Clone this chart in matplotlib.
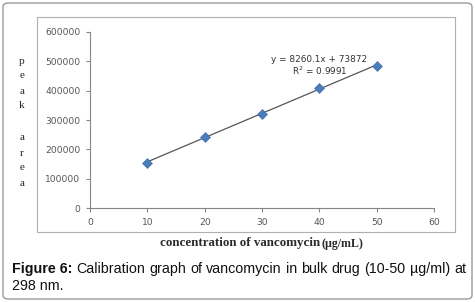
import numpy as np
import matplotlib
matplotlib.use("Agg")
import matplotlib.pyplot as plt
from matplotlib.patches import FancyBboxPatch, Rectangle

conc = [10, 20, 30, 40, 50]
peak_area = [155000, 243000, 322000, 409000, 484000]
xticks = [0, 10, 20, 30, 40, 50, 60]
yticks = [0, 100000, 200000, 300000, 400000, 500000, 600000]
eq_text = "y = 8260.1x + 73872"
r2_text = "R$^2$ = 0.9991"
xlabel_main = "concentration of vancomycin"
xlabel_unit = "(\u00b5g/mL)"
ylabel_letters = "peak area"
caption_bold = "Figure 6:"
caption_line1 = "Calibration graph of vancomycin in bulk drug (10-50 \u00b5g/ml) at"
caption_line2 = "298 nm."

W, H = 475, 302
fig = plt.figure(figsize=(W / 100, H / 100), dpi=100)

fig.patches.append(FancyBboxPatch((3 / W, 3 / H), 469 / W, 296 / H,
                                  boxstyle="round,pad=0,rounding_size=0.012",
                                  transform=fig.transFigure, fill=False,
                                  edgecolor="#9a9a9a", linewidth=1.0))
fig.patches.append(Rectangle((37 / W, 1 - 232 / H), (455 - 37) / W, (232 - 17) / H,
                             transform=fig.transFigure, fill=False,
                             edgecolor="#b0b0b0", linewidth=0.8))

ax = fig.add_axes([90 / W, 1 - 208.3 / H, (434 - 90) / W, (208.3 - 31.7) / H])
ax.set_xlim(0, 60)
ax.set_ylim(0, 600000)
ax.set_xticks(xticks)
ax.set_yticks(yticks)
ax.set_xticklabels([str(t) for t in xticks])
ax.set_yticklabels([str(t) for t in yticks])
for s in ["top", "right"]:
    ax.spines[s].set_visible(False)
for s in ["left", "bottom"]:
    ax.spines[s].set_color("#868686")
    ax.spines[s].set_linewidth(0.8)
ax.tick_params(direction="out", length=3, width=0.8, color="#868686",
               labelsize=6.6, labelcolor="#555555", pad=4)

slope, intercept = np.polyfit(conc, peak_area, 1)
xs = np.array([min(conc), max(conc)])
ax.plot(xs, slope * xs + intercept, color="#555555", linewidth=0.9, zorder=2)
ax.plot(conc, peak_area, linestyle="none", marker="D", markersize=4.8,
        color="#4a7ebb", markeredgecolor="#3a6aa5", markeredgewidth=0.4, zorder=3)

fig.text(319 / W, 1 - 59 / H, eq_text, ha="center", va="center", fontsize=6.4, color="#333333")
fig.text(320 / W, 1 - 71 / H, r2_text, ha="center", va="center", fontsize=6.4, color="#333333")

ys = [61, 76, 91, 106, None, 138, 153, 168, 183]
for ch, yp in zip(ylabel_letters, ys):
    if yp is None or ch == " ":
        continue
    fig.text(22 / W, 1 - yp / H, ch, ha="center", va="center", fontsize=8,
             family="Liberation Serif", color="#222222")

fig.text(320 / W, 1 - 243 / H, xlabel_main, ha="right", va="center", fontsize=9.4,
         family="Liberation Serif", fontweight="bold", color="#2a2a2a")
fig.text(322 / W, 1 - 243.5 / H, xlabel_unit, ha="left", va="center", fontsize=8.6,
         family="Liberation Serif", fontweight="bold", color="#2a2a2a")

cap_font = "Liberation Sans"
fs = 10.3
fig.canvas.draw()
renderer = fig.canvas.get_renderer()
words = [(caption_bold, "bold")] + [(w, "normal") for w in caption_line1.split()]
texts = []
for w, wt in words:
    t = fig.text(0, 1 - 269 / H, w, ha="left", va="center", fontsize=fs,
                 family=cap_font, fontweight=wt, color="#111111")
    texts.append(t)
widths = [t.get_window_extent(renderer).width for t in texts]
x0, x1 = 12.0, 466.0
gap = (x1 - x0 - sum(widths)) / (len(widths) - 1)
x = x0
for t, wd in zip(texts, widths):
    t.set_x(x / W)
    x += wd + gap
fig.text(12 / W, 1 - 286 / H, caption_line2, ha="left", va="center", fontsize=fs,
         family=cap_font, color="#111111")

fig.savefig("out.png", dpi=100)
